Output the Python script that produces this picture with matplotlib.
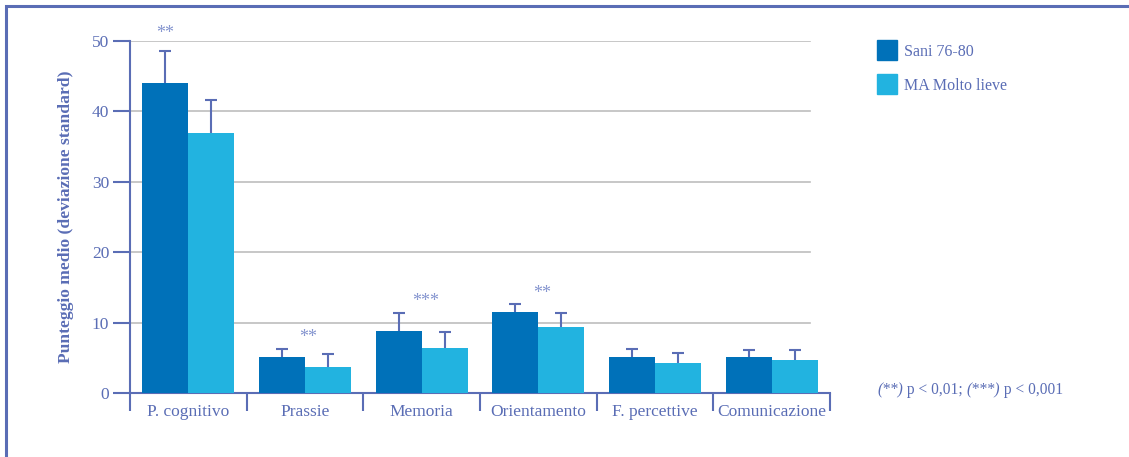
import numpy as np
import matplotlib
matplotlib.use('Agg')
import matplotlib.pyplot as plt
from matplotlib.patches import Rectangle

categories = ['P. cognitivo', 'Prassie', 'Memoria', 'Orientamento', 'F. percettive', 'Comunicazione']
sani = [44.0, 5.1, 8.8, 11.5, 5.1, 5.1]
sani_sd = [4.6, 1.15, 2.6, 1.1, 1.15, 1.05]
ma = [37.0, 3.7, 6.4, 9.4, 4.25, 4.7]
ma_sd = [4.6, 1.8, 2.2, 2.0, 1.45, 1.45]
# significance marks: (category, which position, label)
stars = [(0, 'sani', '**'), (1, 'group', '**'), (2, 'group', '***'), (3, 'group', '**')]

c_dark = '#0071b9'
c_light = '#22b3e0'
c_axis = '#5a6db5'
c_star = '#8494cf'
c_grid = '#bdbdbd'

plt.rcParams['font.family'] = ['Liberation Serif', 'DejaVu Serif']

fig = plt.figure(figsize=(11.29, 4.57), dpi=100)
W, H = 1129, 457
ax = fig.add_axes([130 / W, 1 - 393 / H, 700 / W, (393 - 41) / H])

x = np.arange(len(categories))
bw = 0.394
ax.bar(x - bw / 2, sani, bw, color=c_dark, zorder=3, label='Sani 76-80')
ax.bar(x + bw / 2, ma, bw, color=c_light, zorder=3, label='MA Molto lieve')

# upper error bars only (stem + cap)
cw = 0.052
for xs, vals, sds in [(x - bw / 2, sani, sani_sd), (x + bw / 2, ma, ma_sd)]:
    tops = np.array(vals) + np.array(sds)
    ax.vlines(xs, vals, tops, color=c_axis, lw=1.5, zorder=2)
    ax.hlines(tops, xs - cw, xs + cw, color=c_axis, lw=1.5, zorder=2)

for i, where, lab in stars:
    if where == 'sani':
        xs = i - bw / 2
        off = 2.4
    else:
        xs = i + 0.03
        off = 1.6
    top = max(sani[i] + sani_sd[i], ma[i] + ma_sd[i])
    ax.text(xs, top + off, lab, color=c_star, fontsize=13, ha='center', va='center',
            clip_on=False)

ax.set_xlim(-0.5, len(categories) - 0.5)
ax.set_ylim(0, 50)
for y in [10, 20, 30, 40, 50]:
    ax.axhline(y, xmin=0, xmax=680 / 700, color=c_grid, lw=1.2, zorder=1)

for s in ['top', 'right']:
    ax.spines[s].set_visible(False)
ax.spines['left'].set_color(c_axis)
ax.spines['bottom'].set_color(c_axis)
ax.spines['left'].set_linewidth(1.5)
ax.spines['bottom'].set_linewidth(1.5)
ax.spines['left'].set_bounds(0, 50)

ax.set_yticks([0, 10, 20, 30, 40, 50])
ax.tick_params(axis='y', colors=c_axis, length=12, width=1.5, labelsize=12.5, pad=3)
ax.set_xticks(np.arange(-0.5, len(categories), 1.0))
ax.set_xticklabels([])
ax.tick_params(axis='x', colors=c_axis, length=13, width=1.5)
ax.set_xticks(x, minor=True)
ax.set_xticklabels(categories, minor=True)
ax.tick_params(axis='x', which='minor', length=0, labelsize=12.5, labelcolor=c_axis, pad=8)

ax.set_ylabel('Punteggio medio (deviazione standard)', color=c_axis, fontsize=12.6,
              fontweight='bold', labelpad=13)

# legend
for k, (lab, col) in enumerate([('Sani 76-80', c_dark), ('MA Molto lieve', c_light)]):
    y0 = 40 + k * 34
    fig.patches.append(Rectangle((877 / W, 1 - (y0 + 20) / H), 20 / W, 20 / H,
                                 transform=fig.transFigure, color=col))
    fig.text(904 / W, 1 - (y0 + 12) / H, lab, color=c_axis, fontsize=11.5, va='center')

# footnote with italic parts
prev = fig.text(877 / W, 1 - 398 / H, '(**)', style='italic', color=c_axis, fontsize=11.2,
                va='bottom')
for txt, st in [(' p < 0,01; ', 'normal'), ('(***)', 'italic'), (' p < 0,001', 'normal')]:
    prev = ax.annotate(txt, xy=(1, 0), xycoords=prev, va='bottom', ha='left',
                       style=st, color=c_axis, fontsize=11.2, annotation_clip=False)

# outer frame
fig.patches.append(Rectangle((6 / W, -0.1), 1.2, 1 - 6 / H + 0.1, transform=fig.transFigure,
                             fill=False, edgecolor=c_axis, lw=2.2))

fig.savefig('out.png', dpi=100)
